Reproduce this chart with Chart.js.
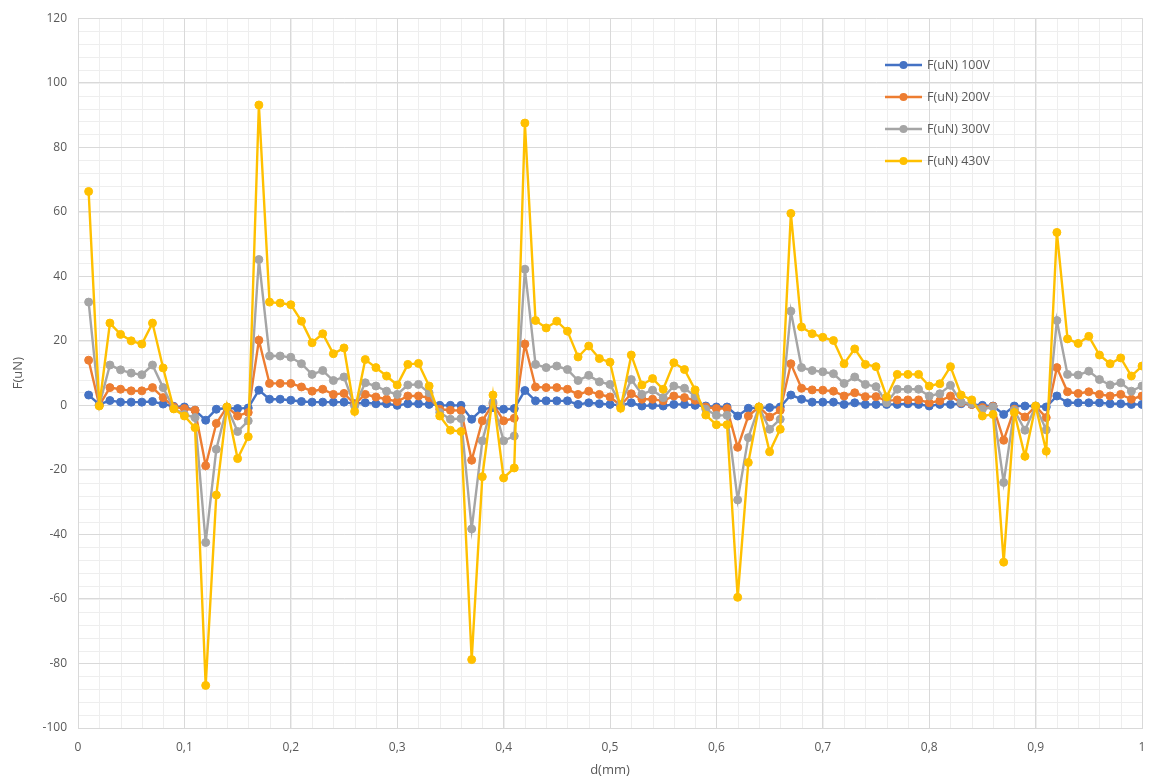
<!DOCTYPE html>
<html>
<head>
<meta charset="utf-8">
<script src="https://cdn.jsdelivr.net/npm/chart.js@4.4.1/dist/chart.umd.min.js"></script>
<style>
  html, body { margin: 0; padding: 0; background: #ffffff; }
  #wrap { width: 1152px; height: 780px; position: relative; }
</style>
</head>
<body>
<div id="wrap"><canvas id="chart"></canvas></div>
<script>
// d(mm)
var distances = [
  0.01, 0.02, 0.03, 0.04, 0.05, 0.06, 0.07, 0.08, 0.09, 0.10,
  0.11, 0.12, 0.13, 0.14, 0.15, 0.16, 0.17, 0.18, 0.19, 0.20,
  0.21, 0.22, 0.23, 0.24, 0.25, 0.26, 0.27, 0.28, 0.29, 0.30,
  0.31, 0.32, 0.33, 0.34, 0.35, 0.36, 0.37, 0.38, 0.39, 0.40,
  0.41, 0.42, 0.43, 0.44, 0.45, 0.46, 0.47, 0.48, 0.49, 0.50,
  0.51, 0.52, 0.53, 0.54, 0.55, 0.56, 0.57, 0.58, 0.59, 0.60,
  0.61, 0.62, 0.63, 0.64, 0.65, 0.66, 0.67, 0.68, 0.69, 0.70,
  0.71, 0.72, 0.73, 0.74, 0.75, 0.76, 0.77, 0.78, 0.79, 0.80,
  0.81, 0.82, 0.83, 0.84, 0.85, 0.86, 0.87, 0.88, 0.89, 0.90,
  0.91, 0.92, 0.93, 0.94, 0.95, 0.96, 0.97, 0.98, 0.99, 1.00
];

// F(uN) pour chaque tension
var f100 = [
  3.2, 0.3, 1.5, 1.0, 1.0, 1.0, 1.2, 0.4, -0.3, -0.5,
  -1.5, -4.6, -1.2, -0.8, -1.0, -0.8, 4.7, 1.9, 1.9, 1.6,
  1.2, 1.0, 1.0, 1.0, 1.0, 0.5, 0.8, 0.5, 0.5, 0.0,
  0.5, 0.5, 0.3, 0.0, 0.0, 0.0, -4.3, -1.2, -0.7, -1.2,
  -1.0, 4.6, 1.4, 1.4, 1.4, 1.4, 0.3, 0.8, 0.5, 0.3,
  0.0, 0.8, -0.2, 0.0, -0.2, 0.3, 0.3, 0.0, -0.2, -0.5,
  -0.5, -3.3, -0.9, -0.7, -0.7, -0.5, 3.2, 1.9, 1.0, 1.0,
  1.0, 0.3, 0.8, 0.3, 0.3, 0.3, 0.3, 0.5, 0.3, -0.2,
  0.3, 0.3, 0.5, 0.3, 0.0, -0.2, -2.8, -0.2, -0.2, -0.2,
  -0.5, 2.9, 0.8, 0.8, 0.8, 0.8, 0.5, 0.5, 0.3, 0.3
];
var f200 = [
  14.0, 0.0, 5.5, 5.0, 4.5, 4.5, 5.5, 2.4, -0.5, -1.0,
  -1.5, -18.7, -5.6, -0.5, -3.3, -2.2, 20.2, 6.8, 6.8, 6.8,
  5.7, 4.4, 5.0, 3.4, 3.7, 0.4, 3.4, 2.6, 1.9, 1.2,
  2.9, 2.9, 2.4, -1.2, -1.5, -1.6, -17.0, -4.8, 0.5, -4.8,
  -4.0, 19.0, 5.7, 5.5, 5.5, 5.0, 3.4, 4.4, 3.4, 2.6,
  0.0, 3.6, 1.9, 1.9, 1.4, 2.9, 2.4, 1.6, -0.5, -1.0,
  -1.0, -13.0, -3.3, -0.5, -3.6, -1.5, 12.9, 5.3, 4.8, 4.7,
  4.4, 2.9, 3.9, 2.7, 2.7, 1.4, 1.7, 1.7, 1.7, 0.8,
  1.4, 2.9, 0.8, 0.3, -0.7, -0.3, -10.8, -1.2, -3.6, -0.3,
  -3.8, 11.7, 4.2, 3.7, 4.2, 3.4, 2.9, 3.4, 1.9, 2.9
];
var f300 = [
  32.0, 0.0, 12.5, 11.0, 10.0, 9.5, 12.5, 5.5, -1.0, -2.8,
  -3.8, -42.5, -13.6, -0.5, -8.1, -4.8, 45.2, 15.3, 15.3, 14.9,
  12.9, 9.6, 10.8, 7.7, 8.8, -0.2, 7.0, 6.0, 4.4, 3.4,
  6.3, 6.5, 3.9, -2.2, -4.3, -4.1, -38.3, -11.0, 1.0, -11.0,
  -9.5, 42.2, 12.7, 11.7, 12.2, 11.1, 7.7, 9.3, 7.3, 6.5,
  0.3, 8.0, 3.4, 4.7, 2.4, 6.0, 5.3, 2.9, -1.2, -3.1,
  -3.1, -29.3, -10.0, -0.5, -7.4, -4.3, 29.2, 11.7, 10.8, 10.4,
  9.8, 6.8, 8.8, 6.5, 5.8, 0.8, 5.0, 5.0, 5.0, 2.9,
  3.6, 6.2, 1.0, 0.5, -1.2, -0.5, -23.9, -1.5, -7.7, -0.3,
  -7.6, 26.3, 9.6, 9.4, 10.6, 8.0, 6.3, 7.0, 4.4, 6.0
];
var f430 = [
  66.3, -0.2, 25.5, 22.0, 20.0, 19.0, 25.5, 11.6, -1.1, -3.3,
  -6.9, -86.8, -27.8, -0.5, -16.5, -9.7, 93.1, 32.0, 31.7, 31.2,
  26.1, 19.4, 22.2, 16.0, 17.8, -1.9, 14.2, 11.7, 9.1, 6.3,
  12.7, 13.0, 6.0, -3.3, -7.7, -8.1, -78.8, -22.1, 3.2, -22.5,
  -19.4, 87.5, 26.3, 24.0, 26.1, 23.0, 15.0, 18.4, 14.5, 13.4,
  -0.9, 15.6, 6.3, 8.3, 5.0, 13.2, 11.1, 4.8, -3.0, -6.0,
  -6.0, -59.5, -17.7, -0.5, -14.4, -7.4, 59.5, 24.3, 22.2, 21.1,
  20.1, 12.9, 17.5, 12.7, 12.0, 2.6, 9.6, 9.6, 9.6, 6.0,
  6.7, 12.0, 3.2, 1.7, -3.3, -2.8, -48.6, -2.2, -15.8, -0.2,
  -14.2, 53.6, 20.6, 19.2, 21.4, 15.6, 12.9, 14.7, 9.1, 12.2
];

var seriesNames = ['F(uN) 100V', 'F(uN) 200V', 'F(uN) 300V', 'F(uN) 430V'];
var seriesColors = ['#4472C4', '#ED7D31', '#A5A5A5', '#FFC000'];
var seriesValues = [f100, f200, f300, f430];

var textColor = '#595959';
var fontFamily = "'Open Sans', 'Liberation Sans', sans-serif";

function toPoints(values) {
    return distances.map(function (d, i) {
        return { x: d, y: values[i] };
    });
}

var datasets = seriesValues.map(function (values, i) {
    return {
        label: seriesNames[i],
        data: toPoints(values),
        showLine: true,
        borderColor: seriesColors[i],
        backgroundColor: seriesColors[i],
        borderWidth: 2.4,
        pointRadius: 4,
        pointBorderWidth: 1,
        pointHoverRadius: 4,
        tension: 0,
        order: seriesValues.length - 1 - i // la dernière série dessinée au-dessus
    };
});

// grille secondaire (quadrillage fin)
var minorGrid = {
    id: 'minorGrid',
    beforeDraw: function (chart) {
        var ctx = chart.ctx;
        var area = chart.chartArea;
        var xs = chart.scales.x;
        var ys = chart.scales.y;
        ctx.save();
        ctx.strokeStyle = '#eeeeee';
        ctx.lineWidth = 1;
        ctx.beginPath();
        for (var k = 0; k <= 50; k++) {
            var px = Math.round(xs.getPixelForValue(k / 50)) + 0.5;
            ctx.moveTo(px, area.top);
            ctx.lineTo(px, area.bottom);
        }
        for (var j = -25; j <= 30; j++) {
            var py = Math.round(ys.getPixelForValue(j * 4)) + 0.5;
            ctx.moveTo(area.left, py);
            ctx.lineTo(area.right, py);
        }
        ctx.stroke();
        ctx.restore();
    }
};

// légende dans la zone du graphique, en haut à droite
var insideLegend = {
    id: 'insideLegend',
    afterDraw: function (chart) {
        var ctx = chart.ctx;
        var x0 = 885, y0 = 65, step = 32;
        ctx.save();
        ctx.font = '12.5px ' + fontFamily;
        ctx.textBaseline = 'middle';
        chart.data.datasets.forEach(function (ds, i) {
            var y = y0 + i * step;
            ctx.strokeStyle = ds.borderColor;
            ctx.fillStyle = ds.borderColor;
            ctx.lineWidth = 2.4;
            ctx.beginPath();
            ctx.moveTo(x0, y);
            ctx.lineTo(x0 + 37, y);
            ctx.stroke();
            ctx.beginPath();
            ctx.arc(x0 + 18.5, y, 4, 0, Math.PI * 2);
            ctx.fill();
            ctx.fillStyle = textColor;
            ctx.fillText(ds.label, x0 + 42, y);
        });
        ctx.restore();
    }
};

var ctx = document.getElementById('chart').getContext('2d');
var chart = new Chart(ctx, {
    type: 'scatter',
    data: { datasets: datasets },
    options: {
        responsive: true,
        maintainAspectRatio: false,
        animation: false,
        layout: { padding: { left: 0, top: 15, right: 10, bottom: 0 } },
        plugins: {
            legend: { display: false },
            tooltip: { enabled: false }
        },
        scales: {
            x: {
                type: 'linear',
                min: 0,
                max: 1,
                afterFit: function (scale) { scale.height = 52; },
                ticks: {
                    stepSize: 0.1,
                    padding: 0,
                    color: textColor,
                    font: { family: fontFamily, size: 12 },
                    callback: function (v) {
                        return String(Math.round(v * 10) / 10).replace('.', ',');
                    }
                },
                // tick marks invisibles : elles servent juste d'écart pour les libellés
                grid: { color: '#d9d9d9', drawTicks: true, tickLength: 12, tickColor: 'rgba(0,0,0,0)' },
                border: { color: '#d9d9d9' },
                title: {
                    display: true,
                    text: 'd(mm)',
                    color: textColor,
                    font: { family: fontFamily, size: 13 },
                    padding: { top: 0, bottom: 2 }
                }
            },
            y: {
                min: -100,
                max: 120,
                afterFit: function (scale) { scale.width = 78; },
                ticks: {
                    stepSize: 20,
                    padding: 11,
                    color: textColor,
                    font: { family: fontFamily, size: 12 }
                },
                grid: { color: '#d9d9d9', drawTicks: false },
                border: { color: '#d9d9d9' },
                title: {
                    display: true,
                    text: 'F(uN)',
                    color: textColor,
                    font: { family: fontFamily, size: 13 },
                    padding: { top: 10, bottom: 0 }
                }
            }
        }
    },
    plugins: [minorGrid, insideLegend]
});
</script>
</body>
</html>
